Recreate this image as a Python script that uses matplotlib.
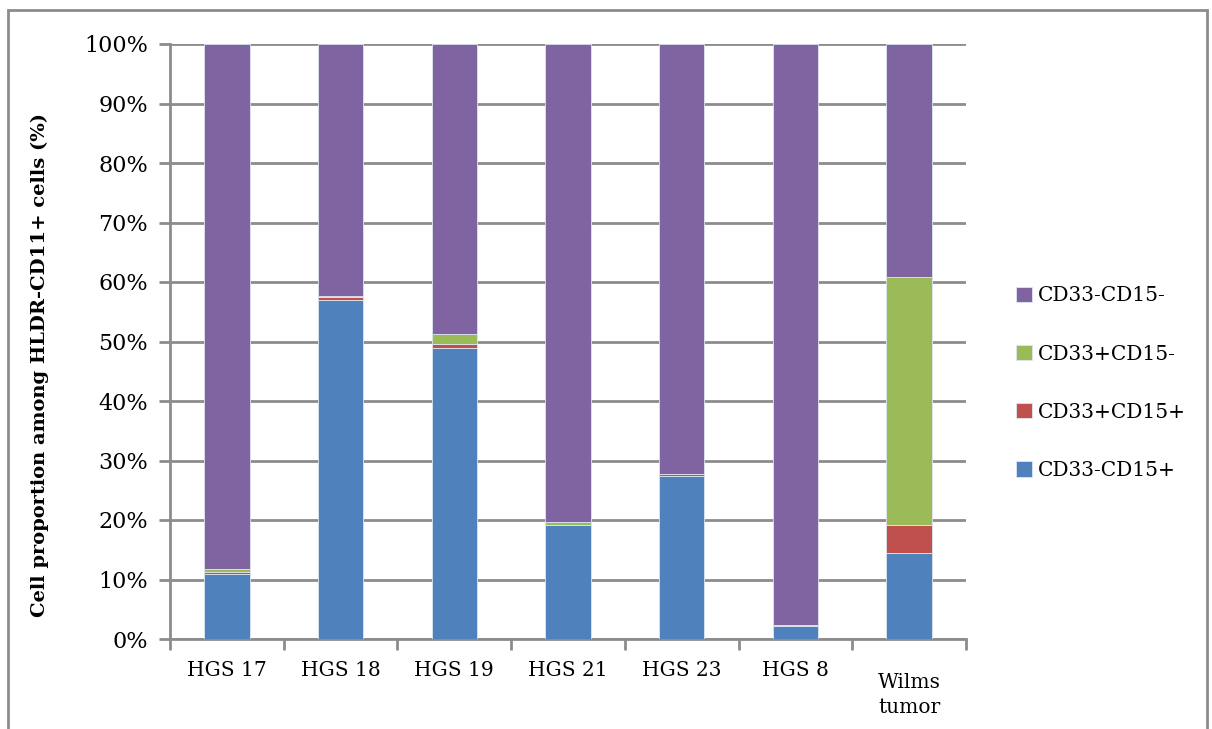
import matplotlib.pyplot as plt
import matplotlib.transforms as mtransforms
import numpy as np
from matplotlib.patches import Rectangle

samples = ['HGS 17', 'HGS 18', 'HGS 19', 'HGS 21', 'HGS 23', 'HGS 8', 'Wilms\ntumor']

# percentages of HLDR-CD11+ cells, stacked bottom to top
cd33n_cd15p = [10.9, 57.0, 48.9, 19.2, 27.4, 2.2, 14.4]
cd33p_cd15p = [0.3, 0.4, 0.7, 0.0, 0.3, 0.0, 4.8]
cd33p_cd15n = [0.6, 0.2, 1.6, 0.4, 0.0, 0.2, 41.7]
cd33n_cd15n = [88.2, 42.4, 48.8, 80.4, 72.3, 97.6, 39.1]

series = [
    ('CD33-CD15+', cd33n_cd15p, '#4F81BD'),
    ('CD33+CD15+', cd33p_cd15p, '#C0504D'),
    ('CD33+CD15-', cd33p_cd15n, '#9BBB59'),
    ('CD33-CD15-', cd33n_cd15n, '#8064A2'),
]

plt.rcParams['font.family'] = ['DejaVu Serif']
fig = plt.figure(figsize=(12.12, 7.29), dpi=100)
ax = fig.add_axes([170 / 1212, 90 / 729, 796 / 1212, 595 / 729])

# outer chart frame
fig.patches.append(Rectangle((8 / 1212, -0.05), 1199 / 1212, 1.05 - 10 / 729,
                             transform=fig.transFigure, fill=False,
                             edgecolor='#8c8c8c', linewidth=2))

x = np.arange(len(samples))
bottom = np.zeros(len(samples))
handles = []
for name, vals, color in series:
    h = ax.bar(x, vals, bottom=bottom, width=0.4, color=color,
               edgecolor='#dde6f0', linewidth=0.6, label=name, zorder=3)
    handles.append(h)
    bottom += np.array(vals)

ax.set_xlim(-0.5, len(samples) - 0.5)
ax.set_ylim(0, 100)
ax.set_yticks(np.arange(0, 101, 10))
ax.set_yticklabels([f'{v}%' for v in range(0, 101, 10)], fontsize=16)
ax.yaxis.grid(True, color='#8c8c8c', linewidth=2, zorder=0)
ax.set_axisbelow(True)

ax.set_xticks(x)
ax.set_xticklabels(samples, fontsize=14.5, linespacing=1.4, va='top')
ax.tick_params(axis='x', length=0, pad=16)
ax.set_xticks(np.arange(-0.5, len(samples)), minor=True)
ax.tick_params(axis='x', which='minor', length=8, width=2, color='#8c8c8c')
ax.tick_params(axis='y', length=8, width=2, color='#8c8c8c', pad=8)

# the two-line label sits a little lower than the others
last = ax.get_xticklabels()[-1]
last.set_transform(last.get_transform() +
                   mtransforms.ScaledTranslation(0, -12 / 100, fig.dpi_scale_trans))

for side in ('top', 'right'):
    ax.spines[side].set_visible(False)
for side in ('left', 'bottom'):
    ax.spines[side].set_color('#8c8c8c')
    ax.spines[side].set_linewidth(2)

ax.set_ylabel('Cell proportion among HLDR-CD11+ cells (%)', fontsize=14,
              fontweight='bold')
ax.yaxis.set_label_coords(-0.152, 0.46)

leg = ax.legend(handles[::-1], [s[0] for s in series][::-1],
                loc='center left', bbox_to_anchor=(1.04, 0.43), frameon=False,
                fontsize=14.5, handlelength=0.8, handleheight=0.8,
                handletextpad=0.3, labelspacing=1.95)

fig.savefig('out.png', dpi=100)
